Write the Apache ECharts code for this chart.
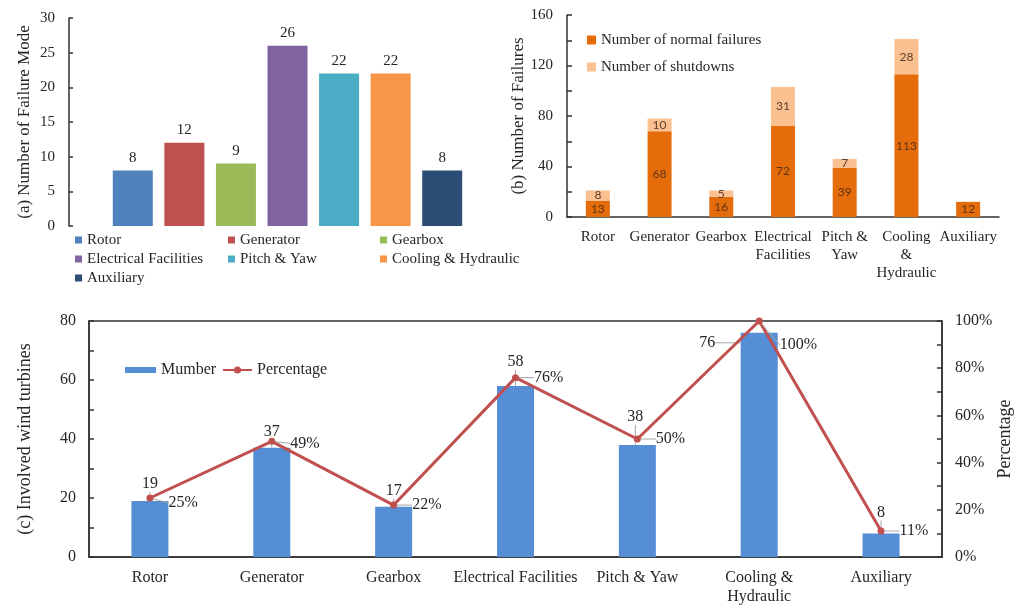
<!DOCTYPE html>
<html>
<head>
<meta charset="utf-8">
<script src="https://cdn.jsdelivr.net/npm/echarts@6/dist/echarts.min.js"></script>
<style>
html,body{margin:0;padding:0;background:#fff;}
#chart{width:1021px;height:605px;}
</style>
</head>
<body>
<div id="chart"></div>
<script>
// ---------- DATA ----------
const categoriesA = ['Rotor', 'Generator', 'Gearbox', 'Electrical Facilities', 'Pitch & Yaw', 'Cooling & Hydraulic', 'Auxiliary'];
const failureModeCounts = [8, 12, 9, 26, 22, 22, 8];

const categoriesB = ['Rotor', 'Generator', 'Gearbox', 'Electrical\nFacilities', 'Pitch &\nYaw', 'Cooling\n&\nHydraulic', 'Auxiliary'];
const normalFailures = [13, 68, 16, 72, 39, 113, 12];
const shutdowns = [8, 10, 5, 31, 7, 28, null];

const categoriesC = ['Rotor', 'Generator', 'Gearbox', 'Electrical Facilities', 'Pitch & Yaw', 'Cooling &\nHydraulic', 'Auxiliary'];
const turbineCounts = [19, 37, 17, 58, 38, 76, 8];
const turbinePercent = [25, 49, 22, 76, 50, 100, 11];

const yTicksA = { min: 0, max: 30, interval: 5 };
const yTicksB = { min: 0, max: 160, interval: 20, labelEvery: 40 };
const yTicksC = { min: 0, max: 80, interval: 10, labelEvery: 20 };
const yTicksCRight = { min: 0, max: 100, interval: 10, labelEvery: 20 };

// ---------- STYLE / LAYOUT ----------
const colorsA = ['#4F81BD', '#C0504D', '#9BBB59', '#8064A2', '#4BACC6', '#F79646', '#2C4D75'];
const legendPosA = [[75, 232], [228, 232], [380, 232], [75, 251], [228, 251], [380, 251], [75, 270]];
const countLabelShiftC = [[0, -4], [0, -3], [0, -3], [0, -11], [-2, -15], [-52, 23], [0, -8]];
const pctLabelShiftC = [[0, 5], [0, 2], [0, 0], [0, 0], [0, 0], [2, 24], [0, 0]];

const SERIF = '"Liberation Serif", "Times New Roman", serif';
const TXT = '#262626';
const AX = '#333333';
const GUIDE = { show: true, lineStyle: { color: '#A6A6A6', width: 1 } };

const chart = echarts.init(document.getElementById('chart'), null, { renderer: 'canvas' });

const axisLineStyle = { show: true, lineStyle: { color: AX, width: 1.5 } };

const seriesA = categoriesA.map((name, i) => ({
  type: 'bar',
  name: name,
  xAxisIndex: 0,
  yAxisIndex: 0,
  barWidth: 40,
  barGap: '-100%',
  data: failureModeCounts.map((v, j) => (j === i ? v : '-')),
  itemStyle: { color: colorsA[i] },
  label: { show: true, position: 'top', distance: 5, color: TXT, fontFamily: SERIF, fontSize: 15 }
}));

const legendsA = categoriesA.map((name, i) => ({
  data: [name],
  left: legendPosA[i][0],
  top: legendPosA[i][1],
  icon: 'rect',
  itemWidth: 7,
  itemHeight: 7,
  padding: 0,
  textStyle: { color: TXT, fontFamily: SERIF, fontSize: 15, lineHeight: 16 }
}));

const option = {
  animation: false,
  textStyle: { fontFamily: SERIF },
  grid: [
    { left: 107, top: 18, width: 361, height: 208, containLabel: false, outerBoundsMode: 'none' },
    { left: 567, top: 15, width: 432, height: 202, containLabel: false, outerBoundsMode: 'none' },
    { left: 89, top: 321, width: 853, height: 236, containLabel: false, outerBoundsMode: 'none',
      show: true, borderColor: AX, borderWidth: 1.5, backgroundColor: 'transparent' }
  ],
  legend: [
    ...legendsA,
    {
      data: ['Number of normal failures', 'Number of shutdowns'],
      orient: 'vertical',
      left: 587,
      top: 32,
      itemGap: 11,
      icon: 'rect',
      itemWidth: 9,
      itemHeight: 9,
      padding: 0,
      textStyle: { color: TXT, fontFamily: SERIF, fontSize: 15, lineHeight: 16 }
    },
    {
      data: ['Mumber'],
      left: 125,
      top: 362,
      icon: 'rect',
      itemWidth: 31,
      itemHeight: 6,
      padding: 0,
      textStyle: { color: TXT, fontFamily: SERIF, fontSize: 16, lineHeight: 16 }
    },
    {
      data: ['Percentage'],
      left: 222,
      top: 362,
      itemWidth: 29,
      itemHeight: 9,
      padding: 0,
      textStyle: { color: TXT, fontFamily: SERIF, fontSize: 16, lineHeight: 16 }
    }
  ],
  xAxis: [
    {
      type: 'category', gridIndex: 0, data: categoriesA,
      axisLine: { show: false }, axisTick: { show: false }, axisLabel: { show: false }
    },
    {
      type: 'category', gridIndex: 1, data: categoriesB,
      axisLine: axisLineStyle, axisTick: { show: false },
      axisLabel: { color: TXT, fontFamily: SERIF, fontSize: 15, lineHeight: 18, margin: 11, interval: 0 }
    },
    {
      type: 'category', gridIndex: 2, data: categoriesC,
      axisLine: axisLineStyle, axisTick: { show: false },
      axisLabel: { color: TXT, fontFamily: SERIF, fontSize: 16, lineHeight: 19, margin: 11, interval: 0 }
    }
  ],
  yAxis: [
    {
      type: 'value', gridIndex: 0, min: yTicksA.min, max: yTicksA.max, interval: yTicksA.interval,
      offset: 38,
      name: '(a) Number of Failure Mode', nameLocation: 'middle', nameGap: 36,
      nameTextStyle: { color: TXT, fontFamily: SERIF, fontSize: 17 },
      axisLine: axisLineStyle,
      axisTick: { show: true, inside: true, length: 4, lineStyle: { color: AX, width: 1.5 } },
      axisLabel: { color: TXT, fontFamily: SERIF, fontSize: 15, margin: 14 },
      splitLine: { show: false }
    },
    {
      type: 'value', gridIndex: 1, min: yTicksB.min, max: yTicksB.max, interval: yTicksB.interval,
      name: '(b) Number of Failures', nameLocation: 'middle', nameGap: 35,
      nameTextStyle: { color: TXT, fontFamily: SERIF, fontSize: 17 },
      axisLine: axisLineStyle,
      axisTick: { show: true, inside: true, length: 5, lineStyle: { color: AX, width: 1.5 } },
      axisLabel: { color: TXT, fontFamily: SERIF, fontSize: 15, margin: 14,
        formatter: v => (v % yTicksB.labelEvery === 0 ? String(v) : '') },
      splitLine: { show: false }
    },
    {
      type: 'value', gridIndex: 2, min: yTicksC.min, max: yTicksC.max, interval: yTicksC.interval,
      name: '(c) Involved wind turbines', nameLocation: 'middle', nameGap: 55,
      nameTextStyle: { color: TXT, fontFamily: SERIF, fontSize: 18 },
      axisLine: axisLineStyle,
      axisTick: { show: true, inside: true, length: 5, lineStyle: { color: AX, width: 1.5 } },
      axisLabel: { color: TXT, fontFamily: SERIF, fontSize: 16, margin: 13,
        formatter: v => (v % yTicksC.labelEvery === 0 ? String(v) : '') },
      splitLine: { show: false }
    },
    {
      type: 'value', gridIndex: 2, position: 'right',
      min: yTicksCRight.min, max: yTicksCRight.max, interval: yTicksCRight.interval,
      name: 'Percentage', nameLocation: 'middle', nameGap: 54, nameRotate: 90, nameMoveOverlap: false,
      nameTextStyle: { color: TXT, fontFamily: SERIF, fontSize: 18 },
      axisLine: axisLineStyle,
      axisTick: { show: true, inside: true, length: 5, lineStyle: { color: AX, width: 1.5 } },
      axisLabel: { color: TXT, fontFamily: SERIF, fontSize: 16, margin: 13,
        formatter: v => (v % yTicksCRight.labelEvery === 0 ? v + '%' : '') },
      splitLine: { show: false }
    }
  ],
  series: [
    ...seriesA,
    {
      type: 'bar', name: 'Number of normal failures', xAxisIndex: 1, yAxisIndex: 1,
      stack: 'b', barWidth: 24, data: normalFailures,
      itemStyle: { color: '#E46C0A' },
      label: { show: true, position: 'inside', color: '#5E3318', fontFamily: 'Lato, "Liberation Sans", sans-serif', fontSize: 12 }
    },
    {
      type: 'bar', name: 'Number of shutdowns', xAxisIndex: 1, yAxisIndex: 1,
      stack: 'b', barWidth: 24, data: shutdowns.map(v => (v == null ? '-' : v)),
      itemStyle: { color: '#FAC090' },
      label: { show: true, position: 'inside', color: '#5E4030', fontFamily: 'Lato, "Liberation Sans", sans-serif', fontSize: 12 }
    },
    {
      type: 'bar', name: 'Mumber', xAxisIndex: 2, yAxisIndex: 2,
      barWidth: 37,
      data: turbineCounts,
      itemStyle: { color: '#558ED5' },
      label: { show: true, position: 'top', distance: 5, color: TXT, fontFamily: SERIF, fontSize: 16 },
      labelLayout: p => ({ dx: countLabelShiftC[p.dataIndex][0], dy: countLabelShiftC[p.dataIndex][1] }),
      labelLine: GUIDE
    },
    {
      type: 'line', name: 'Percentage', xAxisIndex: 2, yAxisIndex: 3,
      data: turbinePercent,
      symbol: 'circle', symbolSize: 7,
      lineStyle: { color: '#C0504D', width: 3 },
      itemStyle: { color: '#C0504D' },
      z: 5,
      label: { show: true, position: 'right', distance: 15, color: TXT, fontFamily: SERIF, fontSize: 16,
        formatter: p => p.value + '%' },
      labelLayout: p => ({ dx: pctLabelShiftC[p.dataIndex][0], dy: pctLabelShiftC[p.dataIndex][1] }),
      labelLine: GUIDE
    }
  ]
};

chart.setOption(option);
</script>
</body>
</html>
